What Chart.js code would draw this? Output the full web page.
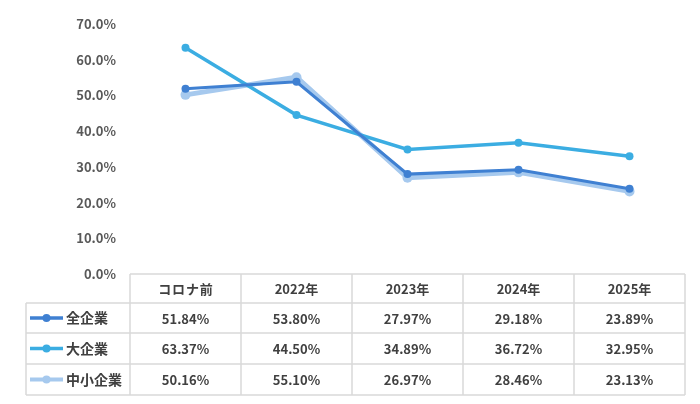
<!DOCTYPE html>
<html>
<head>
    <meta charset="utf-8">
    <title>企業規模別の推移</title>
    <script src="https://cdn.jsdelivr.net/npm/chart.js"></script>
    <style>
        body { margin: 0; background: #fff; }
        #wrap { width: 700px; height: 404px; }
    </style>
</head>
<body>
    <div id="wrap"><canvas id="chart" width="700" height="404"></canvas></div>
    <script>
        // categories and values (percent)
        const categories = ['コロナ前', '2022年', '2023年', '2024年', '2025年'];
        const seriesNames = ['全企業', '大企業', '中小企業'];
        const allCompanies = [51.84, 53.80, 27.97, 29.18, 23.89];
        const largeCompanies = [63.37, 44.50, 34.89, 36.72, 32.95];
        const smeCompanies = [50.16, 55.10, 26.97, 28.46, 23.13];
        const yTicks = [0, 10, 20, 30, 40, 50, 60, 70];

        const colors = ['#3f80d2', '#3badE2', '#a6c9ee'];
        const FONT = "'Noto Sans CJK JP', 'Noto Sans', sans-serif";

        // data table under the plot, drawn from the same arrays
        const tablePlugin = {
            id: 'dataTable',
            afterDraw(chart) {
                const ctx = chart.ctx;
                const x = chart.scales.x;
                const area = chart.chartArea;
                const colW = x.getPixelForValue(1) - x.getPixelForValue(0);
                const left = area.left, right = area.right;
                const labelLeft = 26;
                const top = area.bottom;
                const rowH = [29, 30, 31, 31];
                const rowY = [top];
                rowH.forEach(h => rowY.push(rowY[rowY.length - 1] + h));

                ctx.save();
                ctx.strokeStyle = '#d9d9d9';
                ctx.lineWidth = 1.5;
                ctx.beginPath();
                ctx.moveTo(left, rowY[0]); ctx.lineTo(right, rowY[0]);
                for (let i = 1; i < rowY.length; i++) {
                    ctx.moveTo(labelLeft, rowY[i]); ctx.lineTo(right, rowY[i]);
                }
                ctx.moveTo(labelLeft, rowY[1]); ctx.lineTo(labelLeft, rowY[4]);
                for (let i = 0; i <= categories.length; i++) {
                    const cx = left + i * colW;
                    ctx.moveTo(cx, rowY[0]); ctx.lineTo(cx, rowY[4]);
                }
                ctx.stroke();

                ctx.fillStyle = '#404040';
                ctx.font = 'bold 13px ' + FONT;
                ctx.textAlign = 'center';
                ctx.textBaseline = 'middle';
                categories.forEach((c, i) => {
                    const t = i === 0 ? c.split('').join('\u200A') : c;
                    ctx.fillText(t, x.getPixelForValue(i), (rowY[0] + rowY[1]) / 2 + 1);
                });
                chart.data.datasets.forEach((ds, r) => {
                    const cy = (rowY[r + 1] + rowY[r + 2]) / 2 + 1;
                    ds.data.forEach((v, i) => {
                        ctx.fillStyle = '#404040';
                        ctx.fillText(v.toFixed(2) + '%', x.getPixelForValue(i), cy);
                    });
                    // legend key
                    ctx.strokeStyle = colors[r];
                    ctx.lineWidth = r === 2 ? 4 : 3.5;
                    ctx.beginPath();
                    ctx.moveTo(30, cy - 1); ctx.lineTo(63, cy - 1);
                    ctx.stroke();
                    ctx.fillStyle = colors[r];
                    ctx.beginPath();
                    ctx.arc(46.5, cy - 1, 4, 0, Math.PI * 2);
                    ctx.fill();
                    ctx.fillStyle = '#404040';
                    ctx.font = 'bold 14px ' + FONT;
                    ctx.textAlign = 'left';
                    ctx.fillText(seriesNames[r], 66, cy - 1);
                    ctx.font = 'bold 13px ' + FONT;
                    ctx.textAlign = 'center';
                });
                ctx.restore();
            }
        };

        const ctx = document.getElementById('chart').getContext('2d');
        new Chart(ctx, {
            type: 'line',
            data: {
                labels: categories,
                datasets: [
                    { label: seriesNames[0], data: allCompanies, borderColor: colors[0], backgroundColor: colors[0], borderWidth: 3, pointRadius: 4, pointBorderWidth: 0 },
                    { label: seriesNames[1], data: largeCompanies, borderColor: colors[1], backgroundColor: colors[1], borderWidth: 3.5, pointRadius: 4, pointBorderWidth: 0 },
                    { label: seriesNames[2], data: smeCompanies, borderColor: colors[2], backgroundColor: colors[2], borderWidth: 5, pointRadius: 5, pointBorderWidth: 0 }
                ]
            },
            options: {
                responsive: false,
                animation: false,
                layout: { padding: { top: 24, right: 15, bottom: 130, left: 0 } },
                plugins: { legend: { display: false }, tooltip: { enabled: false } },
                scales: {
                    x: { type: 'category', offset: true, display: false },
                    y: {
                        min: 0,
                        max: 70,
                        afterBuildTicks(scale) { scale.ticks = yTicks.map(v => ({ value: v })); },
                        afterFit(scale) { scale.width = 130; },
                        grid: { display: false, drawTicks: false },
                        border: { display: false },
                        ticks: {
                            padding: 14,
                            color: '#595959',
                            font: { family: FONT, size: 13, weight: 'bold' },
                            callback: v => v.toFixed(1) + '%'
                        }
                    }
                }
            },
            plugins: [tablePlugin]
        });
    </script>
</body>
</html>
